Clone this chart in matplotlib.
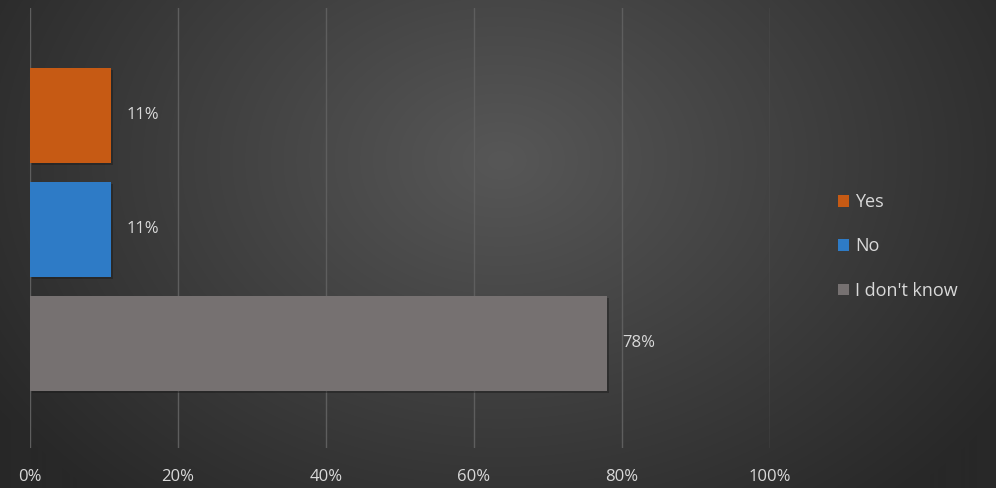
import numpy as np
import matplotlib
matplotlib.use("Agg")
import matplotlib.pyplot as plt
import matplotlib.patheffects as pe
from matplotlib.patches import Patch

categories = ["Yes", "No", "I don't know"]
shares = [0.11, 0.11, 0.78]
share_labels = ["11%", "11%", "78%"]
bar_colors = ["#C65A14", "#2E7BC6", "#767171"]
xticks = [0.0, 0.2, 0.4, 0.6, 0.8, 1.0]
xtick_labels = ["0%", "20%", "40%", "60%", "80%", "100%"]

W, H = 996, 488
fig = plt.figure(figsize=(W / 100, H / 100), dpi=100)

# dark radial background
bg = fig.add_axes([0, 0, 1, 1], zorder=-10)
yy, xx = np.mgrid[0:H, 0:W]
cx, cy = 500, 160
r = np.sqrt(((xx - cx) / 600.0) ** 2 + ((yy - cy) / 450.0) ** 2)
r = np.clip(r, 0, 1)
inner = np.array([0x57, 0x57, 0x57]) / 255.0
outer = np.array([0x28, 0x28, 0x28]) / 255.0
img = inner[None, None, :] * (1 - r[..., None]) + outer[None, None, :] * r[..., None]
bg.imshow(img, aspect="auto", extent=[0, 1, 0, 1], origin="upper")
bg.set_axis_off()

ax = fig.add_axes([30 / W, 40 / H, 740 / W, 440 / H])
ax.patch.set_alpha(0)
for s in ax.spines.values():
    s.set_visible(False)

ypos = np.arange(len(categories))
bars = ax.barh(ypos, shares, height=0.833, color=bar_colors, zorder=3)
for b in bars:
    b.set_path_effects([pe.SimplePatchShadow(offset=(1.5, -1.5), shadow_rgbFace="#1a1a1a", alpha=0.45),
                        pe.Normal()])

for y, v, lab in zip(ypos, shares, share_labels):
    ax.annotate(lab, xy=(v, y), xytext=(11, 0), textcoords="offset points",
                va="center", ha="left", color="#D9D9D9", fontsize=12,
                family="Open Sans")

ax.set_xlim(0, 1.0)
ax.set_ylim(2.917, -0.943)
ax.set_yticks([])
ax.set_xticks(xticks)
ax.set_xticklabels(xtick_labels, color="#D9D9D9", fontsize=12, family="Open Sans")
ax.tick_params(axis="x", length=0, pad=15)
ax.grid(axis="x", color="#5E5E5E", linewidth=1, zorder=0)
ax.set_axisbelow(True)

handles = [Patch(facecolor=c, edgecolor="none") for c in bar_colors]
leg = fig.legend(handles, categories, loc="upper left", bbox_to_anchor=(822 / W, 1 - 177 / H),
                 frameon=False, labelcolor="#D9D9D9",
                 prop={"family": "Open Sans", "size": 13},
                 handlelength=0.6, handleheight=0.6, handletextpad=0.35,
                 labelspacing=1.45)

fig.savefig("out.png", dpi=100)
